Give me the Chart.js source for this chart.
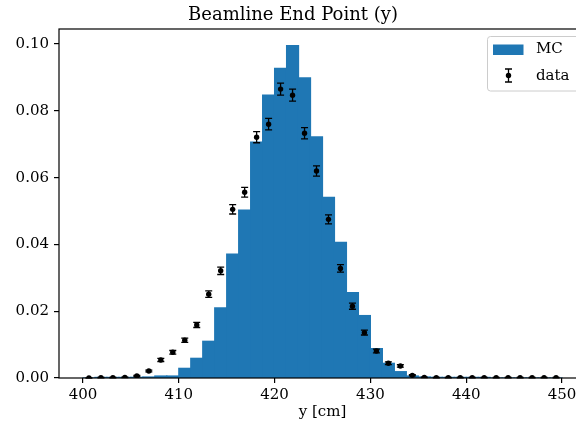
<!DOCTYPE html>
<html>
<head>
<meta charset="utf-8">
<script src="https://cdn.jsdelivr.net/npm/chart.js@4/dist/chart.umd.min.js"></script>
<style>
  html, body { margin: 0; padding: 0; background: #fff; overflow: hidden; }
  #wrap { width: 576px; height: 428px; overflow: hidden; }
</style>
</head>
<body>
<div id="wrap">
  <canvas id="myChart" width="645" height="428"></canvas>
</div>
<script>
// 40 bins of 1.25 cm between 400 and 450
const binCenters = [
  400.625, 401.875, 403.125, 404.375, 405.625, 406.875, 408.125, 409.375,
  410.625, 411.875, 413.125, 414.375, 415.625, 416.875, 418.125, 419.375,
  420.625, 421.875, 423.125, 424.375, 425.625, 426.875, 428.125, 429.375,
  430.625, 431.875, 433.125, 434.375, 435.625, 436.875, 438.125, 439.375,
  440.625, 441.875, 443.125, 444.375, 445.625, 446.875, 448.125, 449.375
];
const mcDensity = [
  0.0000, 0.0001, 0.0001, 0.0001, 0.0002, 0.0003, 0.0006, 0.0006,
  0.0029, 0.0059, 0.0110, 0.0210, 0.0371, 0.0503, 0.0706, 0.0847,
  0.0927, 0.0995, 0.0899, 0.0722, 0.0541, 0.0406, 0.0256, 0.0187,
  0.0088, 0.0044, 0.0019, 0.0006, 0.0003, 0.0002, 0.0001, 0.0001,
  0.0001, 0.0001, 0.0000, 0.0000, 0.0000, 0.0000, 0.0000, 0.0000
];
const dataDensity = [
  0.0000, 0.0001, 0.0001, 0.0002, 0.0006, 0.0021, 0.0054, 0.0077,
  0.0113, 0.0159, 0.0251, 0.0321, 0.0505, 0.0556, 0.0721, 0.0760,
  0.0865, 0.0847, 0.0733, 0.0620, 0.0475, 0.0328, 0.0215, 0.0136,
  0.0081, 0.0044, 0.0036, 0.0008, 0.0002, 0.0001, 0.0001, 0.0001,
  0.0001, 0.0001, 0.0001, 0.0001, 0.0001, 0.0001, 0.0001, 0.0001
];
const dataError = [
  0.00005, 0.00006, 0.00006, 0.00009, 0.00015, 0.00028, 0.00046, 0.00054,
  0.00066, 0.00078, 0.00098, 0.00111, 0.00139, 0.00146, 0.00166, 0.00171,
  0.00182, 0.00180, 0.00168, 0.00154, 0.00135, 0.00112, 0.00091, 0.00072,
  0.00056, 0.00041, 0.00037, 0.00018, 0.00009, 0.00006, 0.00006, 0.00006,
  0.00006, 0.00006, 0.00006, 0.00006, 0.00006, 0.00006, 0.00006, 0.00006
];
const xTicks = [400, 410, 420, 430, 440, 450];
const yTicks = [0.00, 0.02, 0.04, 0.06, 0.08, 0.10];

const FONT = '"DejaVu Serif", serif';
const BLUE = '#1f77b4';
const CAP = 3.5;

function drawErrorBar(ctx, x, yTop, yBot, yMid, r) {
  ctx.beginPath();
  ctx.moveTo(x, yTop); ctx.lineTo(x, yBot);
  ctx.moveTo(x - CAP, yTop); ctx.lineTo(x + CAP, yTop);
  ctx.moveTo(x - CAP, yBot); ctx.lineTo(x + CAP, yBot);
  ctx.stroke();
  ctx.beginPath();
  ctx.arc(x, yMid, r, 0, Math.PI * 2);
  ctx.fill();
}

// error bars, frame and legend
const decorations = {
  id: 'decorations',
  afterDatasetsDraw(chart) {
    const {ctx, scales: {x, y}} = chart;
    ctx.save();
    ctx.strokeStyle = '#000';
    ctx.lineWidth = 1.3;
    binCenters.forEach((c, i) => {
      const px = x.getPixelForValue(c);
      const hi = y.getPixelForValue(dataDensity[i] + dataError[i]);
      const lo = y.getPixelForValue(dataDensity[i] - dataError[i]);
      ctx.beginPath();
      ctx.moveTo(px, hi); ctx.lineTo(px, lo);
      ctx.moveTo(px - CAP, hi); ctx.lineTo(px + CAP, hi);
      ctx.moveTo(px - CAP, lo); ctx.lineTo(px + CAP, lo);
      ctx.stroke();
    });
    ctx.restore();
  },
  afterDraw(chart) {
    const {ctx, chartArea: a} = chart;
    ctx.save();
    ctx.strokeStyle = '#000';
    ctx.lineWidth = 1.2;
    ctx.strokeRect(a.left, a.top, a.right - a.left, a.bottom - a.top);

    // legend box
    ctx.beginPath();
    ctx.roundRect(487.5, 36.5, 92, 54.5, 3);
    ctx.fillStyle = 'rgba(255,255,255,0.8)';
    ctx.fill();
    ctx.strokeStyle = '#cccccc';
    ctx.lineWidth = 1;
    ctx.stroke();

    ctx.fillStyle = BLUE;
    ctx.fillRect(493, 44.5, 30.5, 10.5);

    ctx.strokeStyle = '#000';
    ctx.fillStyle = '#000';
    ctx.lineWidth = 1.3;
    drawErrorBar(ctx, 508.5, 69, 82, 75.5, 2.7);

    ctx.font = '15px ' + FONT;
    ctx.textBaseline = 'middle';
    ctx.fillText(chart.data.datasets[1].label, 536, 49.5);
    ctx.fillText(chart.data.datasets[0].label, 536, 76);
    ctx.restore();
  }
};

new Chart(document.getElementById('myChart'), {
  type: 'bar',
  data: {
    datasets: [
      {
        type: 'scatter',
        label: 'data',
        data: binCenters.map((c, i) => ({x: c, y: dataDensity[i]})),
        backgroundColor: '#000',
        borderWidth: 0,
        pointRadius: 2.7,
        pointHoverRadius: 2.7
      },
      {
        type: 'bar',
        label: 'MC',
        data: binCenters.map((c, i) => ({x: c, y: mcDensity[i]})),
        backgroundColor: BLUE,
        borderWidth: 0,
        inflateAmount: 0.6,
        barPercentage: 1,
        categoryPercentage: 1
      }
    ]
  },
  options: {
    responsive: false,
    animation: false,
    events: [],
    layout: { padding: { top: 0, left: 0, right: 59, bottom: 0 } },
    plugins: {
      legend: { display: false },
      tooltip: { enabled: false },
      title: {
        display: true,
        text: 'Beamline End Point (y)',
        color: '#000',
        font: { family: FONT, size: 18, weight: 'normal' },
        padding: { top: 5, bottom: 2.4 }
      }
    },
    scales: {
      x: {
        type: 'linear',
        min: 397.5,
        max: 452.5,
        offset: false,
        afterFit: s => { s.height = 50; },
        afterBuildTicks: s => { s.ticks = xTicks.map(v => ({value: v})); },
        grid: { offset: false, drawOnChartArea: false, drawTicks: true, tickLength: 5, color: '#000', lineWidth: 1.2 },
        border: { display: false },
        ticks: { color: '#000', padding: 3, maxRotation: 0, font: { family: FONT, size: 15 } },
        title: { display: true, text: 'y [cm]', color: '#000', font: { family: FONT, size: 15 }, padding: { top: 0, bottom: 6.5 } }
      },
      y: {
        min: 0,
        max: 0.1045,
        afterFit: s => { s.width = 59; },
        afterBuildTicks: s => { s.ticks = yTicks.map(v => ({value: v})); },
        grid: { drawOnChartArea: false, drawTicks: true, tickLength: 5, color: '#000', lineWidth: 1.2 },
        border: { display: false },
        ticks: { color: '#000', padding: 5, font: { family: FONT, size: 15 }, callback: v => v.toFixed(2) }
      }
    }
  },
  plugins: [decorations]
});
</script>
</body>
</html>
